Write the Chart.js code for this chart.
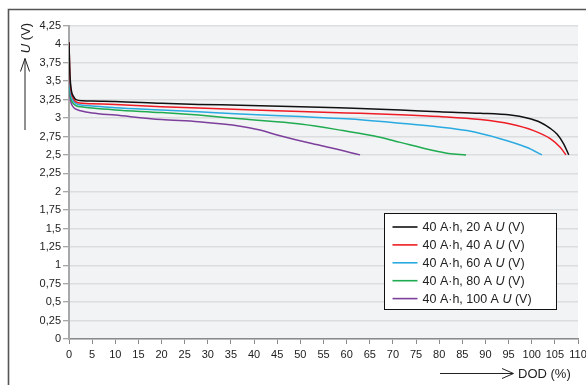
<!DOCTYPE html>
<html>
<head>
<meta charset="utf-8">
<script src="https://cdn.jsdelivr.net/npm/chart.js@4/dist/chart.umd.min.js"></script>
<style>
  html, body { margin: 0; padding: 0; background: #fff; }
  #c { display: block; }
</style>
</head>
<body>
<canvas id="c" width="586" height="385"></canvas>
<script>
// Discharge curves of a 40 A·h cell: voltage U (V) versus depth of discharge DOD (%)
const currents = [20, 40, 60, 80, 100];
const colors = ['#111111', '#ee1c25', '#29aae1', '#1fab4f', '#7d3f9c'];

const dod20 = [0, 0.2, 0.5, 1, 1.5, 3, 5, 10, 20, 28, 37, 50, 60, 71.6, 80, 88.9, 95.4, 99, 101.9, 104, 105.5, 106.9, 108];
const u20   = [4.03, 3.6, 3.38, 3.29, 3.25, 3.235, 3.23, 3.225, 3.2, 3.185, 3.175, 3.155, 3.135, 3.11, 3.085, 3.065, 3.04, 3.0, 2.94, 2.86, 2.78, 2.65, 2.5];

const dod40 = [0, 0.2, 0.5, 1, 1.5, 3, 5, 10, 20, 28, 37, 50, 60, 71.6, 80, 88.9, 95.4, 100.4, 104, 106.2, 107.4];
const u40   = [4.03, 3.55, 3.35, 3.26, 3.22, 3.2, 3.195, 3.185, 3.155, 3.135, 3.115, 3.09, 3.07, 3.045, 3.02, 2.98, 2.92, 2.83, 2.72, 2.6, 2.5];

const dod60 = [0, 0.3, 0.7, 1.5, 3, 5, 10, 20, 28, 37, 50, 60, 71.6, 80, 86, 93.2, 99, 102.2];
const u60   = [3.6, 3.35, 3.26, 3.2, 3.175, 3.165, 3.14, 3.11, 3.085, 3.055, 3.02, 2.99, 2.93, 2.88, 2.83, 2.72, 2.6, 2.5];

const dod80 = [0, 0.3, 0.7, 1.5, 3, 5, 10, 20, 28, 37, 50, 59.2, 67.2, 71.6, 78.7, 82, 85.8];
const u80   = [3.55, 3.3, 3.22, 3.17, 3.15, 3.135, 3.11, 3.075, 3.04, 2.99, 2.92, 2.83, 2.74, 2.67, 2.56, 2.52, 2.5];

const dod100 = [0, 0.3, 0.7, 1.5, 2.5, 5, 10, 20, 28, 37, 41, 45.6, 52, 57, 62.9];
const u100   = [3.45, 3.25, 3.17, 3.12, 3.1, 3.07, 3.04, 2.98, 2.95, 2.89, 2.84, 2.76, 2.66, 2.59, 2.5];

const series = [[dod20, u20], [dod40, u40], [dod60, u60], [dod80, u80], [dod100, u100]];

const FONT = "'Liberation Sans', Arial, Helvetica, sans-serif";
const TEXT = '#222222';

const datasets = series.map(([xs, ys], i) => ({
  label: '40 A·h, ' + currents[i] + ' A U (V)',
  data: xs.map((x, k) => ({ x: x, y: ys[k] })),
  borderColor: colors[i],
  backgroundColor: colors[i],
  borderWidth: 1.5,
  pointRadius: 0,
  fill: false,
  cubicInterpolationMode: 'monotone'
}));

// Drawing helpers for text with an italic "U"
function drawRich(ctx, parts, x, y, size) {
  let cx = x;
  parts.forEach(p => {
    ctx.font = (p.italic ? 'italic ' : '') + size + 'px ' + FONT;
    ctx.fillText(p.t, cx, y);
    cx += ctx.measureText(p.t).width;
  });
  return cx - x;
}
function measureRich(ctx, parts, size) {
  let w = 0;
  parts.forEach(p => {
    ctx.font = (p.italic ? 'italic ' : '') + size + 'px ' + FONT;
    w += ctx.measureText(p.t).width;
  });
  return w;
}
function uParts(prefix) {
  return [{ t: prefix }, { t: 'U', italic: true }, { t: ' (V)' }];
}

const decor = {
  id: 'decor',
  beforeDraw(chart) {
    const ctx = chart.ctx, a = chart.chartArea;
    ctx.save();
    ctx.fillStyle = '#ffffff';
    ctx.fillRect(0, 0, chart.width, chart.height);
    // outer frame
    ctx.strokeStyle = '#555555';
    ctx.lineWidth = 1.6;
    ctx.beginPath();
    ctx.moveTo(8.5, chart.height);
    ctx.lineTo(8.5, 9.5);
    ctx.lineTo(chart.width, 9.5);
    ctx.stroke();
    // plot background
    ctx.fillStyle = '#f2f3f5';
    ctx.fillRect(a.left, a.top, a.right - a.left, a.bottom - a.top);
    ctx.restore();
  },
  afterDraw(chart) {
    const ctx = chart.ctx, a = chart.chartArea;
    ctx.save();
    ctx.fillStyle = TEXT;
    ctx.strokeStyle = '#222222';
    ctx.lineWidth = 1;
    ctx.textBaseline = 'alphabetic';

    // y-axis title, rotated, with an upward arrow
    const yParts = [{ t: 'U', italic: true }, { t: ' (V)' }];
    const yw = measureRich(ctx, yParts, 13);
    ctx.save();
    ctx.translate(29.5, 38);
    ctx.rotate(-Math.PI / 2);
    drawRich(ctx, yParts, -yw / 2, 0, 13);
    ctx.restore();
    ctx.beginPath();
    ctx.moveTo(25, 130);
    ctx.lineTo(25, 58.5);
    ctx.moveTo(20.5, 71.5);
    ctx.lineTo(25, 58.5);
    ctx.lineTo(29.5, 71.5);
    ctx.stroke();

    // x-axis title with a rightward arrow
    ctx.beginPath();
    ctx.moveTo(440, 373.5);
    ctx.lineTo(513, 373.5);
    ctx.moveTo(502, 368.5);
    ctx.lineTo(513.5, 373.5);
    ctx.lineTo(502, 378.5);
    ctx.stroke();
    ctx.textBaseline = 'middle';
    ctx.font = '13px ' + FONT;
    ctx.fillText('DOD (%)', 518, 374);

    // legend box
    const bx = a.right - 193.5, by = a.top + 187.5, bw = 172, bh = 96;
    ctx.fillStyle = '#ffffff';
    ctx.fillRect(bx, by, bw, bh);
    ctx.strokeStyle = '#111111';
    ctx.lineWidth = 1;
    ctx.strokeRect(bx, by, bw, bh);
    chart.data.datasets.forEach((ds, i) => {
      const ry = by + 13.5 + i * 17.9;
      ctx.strokeStyle = ds.borderColor;
      ctx.lineWidth = 1.6;
      ctx.beginPath();
      ctx.moveTo(bx + 8, ry);
      ctx.lineTo(bx + 33, ry);
      ctx.stroke();
      ctx.fillStyle = TEXT;
      ctx.textBaseline = 'middle';
      const pre = ds.label.split(' U (V)')[0] + ' ';
      drawRich(ctx, uParts(pre), bx + 38, ry + 0.5, 12.5);
    });
    ctx.restore();
  }
};

new Chart(document.getElementById('c'), {
  type: 'line',
  data: { datasets: datasets },
  options: {
    responsive: false,
    devicePixelRatio: 1,
    animation: false,
    layout: { padding: { left: 0, top: 26, right: 8, bottom: 0 } },
    plugins: { legend: { display: false }, tooltip: { enabled: false } },
    scales: {
      x: {
        type: 'linear',
        min: 0, max: 110,
        border: { color: '#8a8a8a', width: 1.5 },
        grid: { display: true, drawOnChartArea: false, tickLength: 5, tickColor: '#8a8a8a', tickWidth: 1 },
        ticks: {
          stepSize: 5, autoSkip: false, maxRotation: 0, padding: 4,
          color: TEXT, font: { family: FONT, size: 11 }
        },
        afterFit(scale) { scale.height = 46; scale.paddingLeft = 0; scale.paddingRight = 0; }
      },
      y: {
        type: 'linear',
        min: 0, max: 4.25,
        border: { color: '#a8a8a8', width: 2 },
        grid: { color: '#dcdddf', lineWidth: 1.5, tickLength: 6, tickColor: '#8a8a8a', tickWidth: 1 },
        ticks: {
          stepSize: 0.25, autoSkip: false, padding: 2,
          color: TEXT, font: { family: FONT, size: 11 },
          callback: v => String(Math.round(v * 100) / 100).replace('.', ',')
        },
        afterFit(scale) { scale.width = 69; scale.paddingTop = 0; scale.paddingBottom = 0; }
      }
    }
  },
  plugins: [decor]
});
</script>
</body>
</html>
